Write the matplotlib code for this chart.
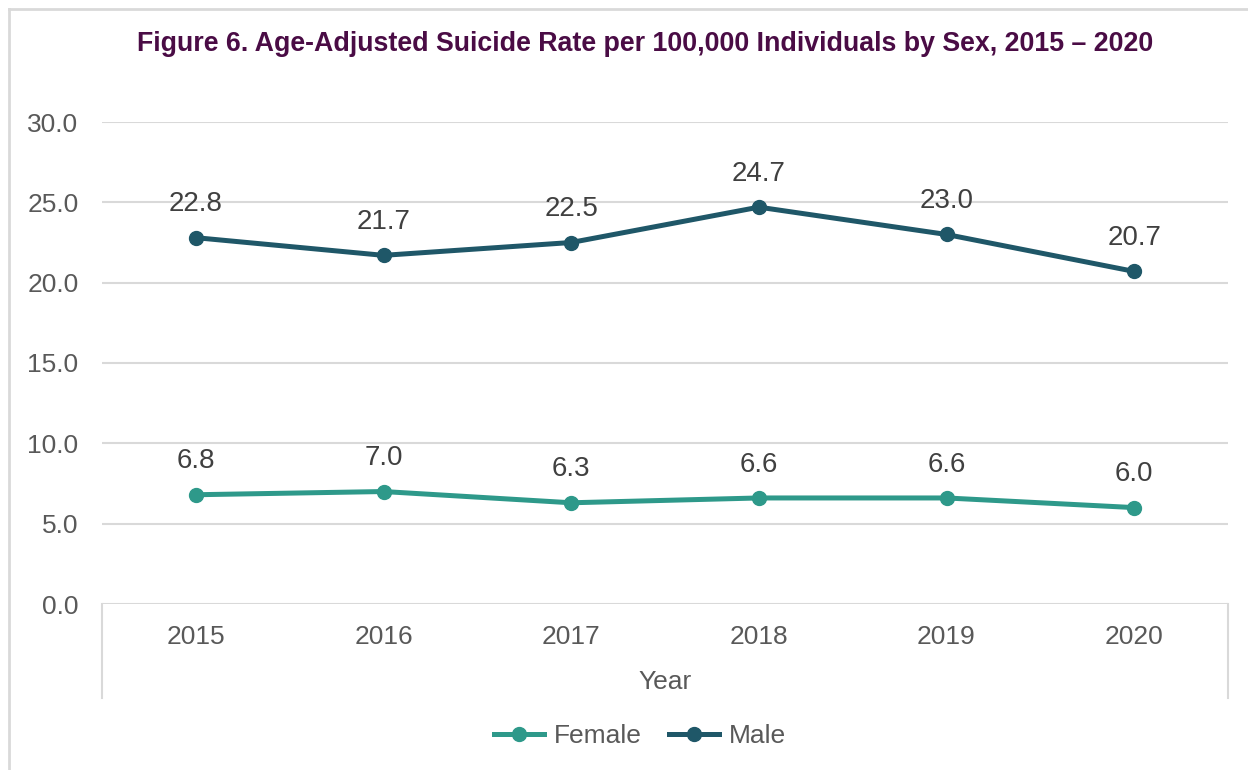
import matplotlib.pyplot as plt
from matplotlib.lines import Line2D

plt.rcParams['font.family'] = ['Liberation Sans', 'DejaVu Sans']

# Data
years = ['2015', '2016', '2017', '2018', '2019', '2020']
female = [6.8, 7.0, 6.3, 6.6, 6.6, 6.0]
male = [22.8, 21.7, 22.5, 24.7, 23.0, 20.7]
yticks = [0, 5, 10, 15, 20, 25, 30]

female_color = '#2E998A'
male_color = '#1F5768'
text_color = '#595959'
grid_color = '#D9D9D9'

fig = plt.figure(figsize=(12.48, 7.7), dpi=100)
ax = fig.add_axes([102 / 1248, 1 - 604 / 770, 1126 / 1248, 482 / 770])

x = [i + 0.5 for i in range(len(years))]
ax.plot(x, female, color=female_color, lw=3.6, marker='o', ms=10, label='Female',
        solid_capstyle='round')
ax.plot(x, male, color=male_color, lw=3.6, marker='o', ms=10, label='Male',
        solid_capstyle='round')

# Data labels above the points
for xi, v in zip(x, female):
    ax.annotate(f'{v:.1f}', (xi, v), xytext=(0, 24), textcoords='offset points',
                ha='center', va='center', fontsize=20, color='#404040')
for xi, v in zip(x, male):
    ax.annotate(f'{v:.1f}', (xi, v), xytext=(0, 24), textcoords='offset points',
                ha='center', va='center', fontsize=20, color='#404040')

ax.set_xlim(0, len(years))
ax.set_ylim(0, 30)
ax.set_yticks(yticks)
ax.set_yticklabels([f'{t:.1f}' for t in yticks], fontsize=19, color=text_color)
ax.set_xticks(x)
ax.set_xticklabels(years, fontsize=19, color=text_color)
ax.tick_params(axis='both', length=0)
ax.tick_params(axis='x', pad=15)
ax.tick_params(axis='y', pad=17)
ax.grid(axis='y', color=grid_color, lw=1.5)
ax.set_axisbelow(True)
for s in ax.spines.values():
    s.set_visible(False)

ax.set_xlabel('Year', fontsize=19, color=text_color, labelpad=15)

# Category axis box edges (left and right lines below the plot)
for xx in (0, len(years)):
    ax.plot([xx, xx], [0, -5.85], color=grid_color, lw=1.5, clip_on=False)

fig.suptitle('Figure 6. Age-Adjusted Suicide Rate per 100,000 Individuals by Sex, 2015 \u2013 2020',
             x=645 / 1248, y=1 - 44 / 770, va='center', fontsize=19.3,
             fontweight='bold', color='#4A0C45')

handles = [Line2D([], [], color=female_color, lw=3.6, marker='o', ms=10),
           Line2D([], [], color=male_color, lw=3.6, marker='o', ms=10)]
fig.legend(handles, ['Female', 'Male'], loc='center', bbox_to_anchor=(640 / 1248, 1 - 736 / 770),
           ncol=2, frameon=False, fontsize=19, labelcolor=text_color,
           handlelength=1.9, columnspacing=1.0, handletextpad=0.4)

# Chart area border
fig.add_artist(Line2D([9 / 1248, 1.01], [1 - 9 / 770, 1 - 9 / 770],
                      transform=fig.transFigure, color=grid_color, lw=2))
fig.add_artist(Line2D([9 / 1248, 9 / 1248], [-0.01, 1 - 9 / 770],
                      transform=fig.transFigure, color=grid_color, lw=2))

fig.savefig('out.png', dpi=100)
